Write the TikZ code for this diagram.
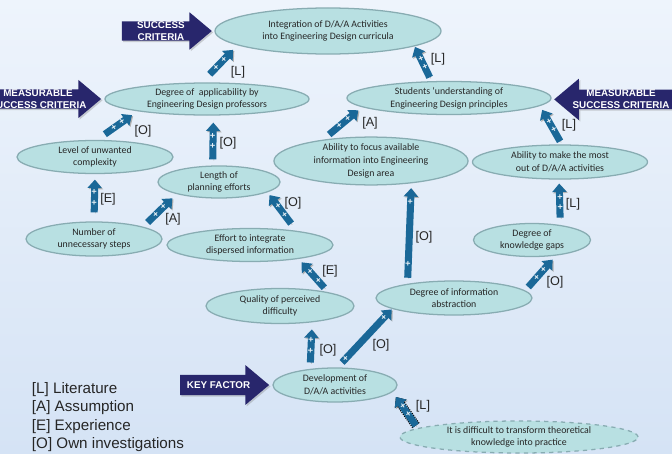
\documentclass[tikz,border=0pt]{standalone}
\usepackage{fontspec}
\setmainfont{Carlito}
\setsansfont{Liberation Sans}
\usetikzlibrary{arrows.meta,shapes.geometric,shapes.arrows,shadows}

\definecolor{bgtop}{RGB}{238,244,252}
\definecolor{bgbot}{RGB}{213,227,245}
\definecolor{cellfill}{RGB}{184,224,226}
\definecolor{celledge}{RGB}{136,172,178}
\definecolor{flowblue}{RGB}{26,104,152}
\definecolor{critnavy}{RGB}{40,38,108}

\begin{document}
\begin{tikzpicture}[x=0.025cm, y=-0.025cm,
  factor/.style={ellipse, draw=celledge, line width=0.9pt, fill=cellfill, inner sep=0pt,
    align=center, text=black!85, font=\fontsize{7}{9}\selectfont},
  flow/.style={line width=5pt, draw=flowblue, -{Triangle[width=10pt,length=6pt]},
    preaction={draw=black!30, transform canvas={shift={(0.8pt,-0.8pt)}}}},
  plus/.style={sloped, inner sep=0pt, text=white!90!flowblue, font=\sffamily\bfseries\fontsize{6.5}{6.5}\selectfont},
  src/.style={text=black!85, font=\sffamily\fontsize{9}{9}\selectfont},
  crit/.style={single arrow, fill=critnavy, text=white, align=center, inner xsep=2pt, inner ysep=0pt,
    single arrow head indent=0pt, single arrow tip angle=80,
    drop shadow={opacity=0.35, shadow xshift=1pt, shadow yshift=-1pt},
    font=\sffamily\bfseries\fontsize{7}{8.5}\selectfont}]
\shade[top color=bgtop, bottom color=bgbot] (0,0) rectangle (672,454);
\useasboundingbox (0,0) rectangle (672,454);

% factors
\node[factor, minimum width=5.65cm, minimum height=1.15cm] (integ) at (328,31) {Integration of D/A/A Activities\\into Engineering Design curricula};
\node[factor, minimum width=5.1cm, minimum height=0.8cm] (app) at (207,99) {Degree of\ \ applicability by\\Engineering Design professors};
\node[factor, minimum width=5.1cm, minimum height=0.825cm] (stud) at (449,98) {Students ‘understanding of\\Engineering Design principles};
\node[factor, minimum width=3.9cm, minimum height=0.825cm] (level) at (95,157) {Level of unwanted\\complexity};
\node[factor, minimum width=3.05cm, minimum height=0.8cm] (plan) at (219,182) {Length of\\planning efforts};
\node[factor, minimum width=4.85cm, minimum height=1.15cm] (focus) at (371,161) {Ability to focus available\\information into Engineering\\Design area};
\node[factor, minimum width=4.375cm, minimum height=0.85cm] (most) at (560,162) {Ability to make the most\\out of D/A/A activities};
\node[factor, minimum width=3.4cm, minimum height=0.85cm] (steps) at (94,239) {Number of\\unnecessary steps};
\node[factor, minimum width=4.15cm, minimum height=0.825cm] (effort) at (250,245) {Effort to integrate\\dispersed information};
\node[factor, minimum width=2.925cm, minimum height=0.825cm] (gaps) at (532,240) {Degree of\\knowledge gaps};
\node[factor, minimum width=3.7cm, minimum height=0.875cm] (qual) at (280,306) {Quality of perceived\\difficulty};
\node[factor, minimum width=3.9cm, minimum height=0.85cm] (abstr) at (454,298) {Degree of information\\abstraction};
\node[factor, minimum width=3.1cm, minimum height=0.85cm] (dev) at (335,385) {Development of\\D/A/A activities};
\node[factor, dashed, minimum width=5.95cm, minimum height=0.8cm] (diff) at (519,437) {It is difficult to transform theoretical\\knowledge into practice};

% criteria arrows
\node[crit, minimum height=2.25cm, single arrow head extend=6.4pt, anchor=tip] (sc) at ([xshift=-1.5pt]integ.west) {SUCCESS\\CRITERIA};
\node[crit, minimum height=2.6cm, single arrow head extend=6.7pt, anchor=tip] (mscl) at ([xshift=-2pt]app.west) {MEASURABLE\\SUCCESS CRITERIA};
\node[crit, minimum height=3.05cm, single arrow head extend=7.8pt, shape border rotate=180, anchor=tip] (mscr) at ([xshift=1.5pt,yshift=-1pt]stud.east) {MEASURABLE\\SUCCESS CRITERIA};
\node[crit, minimum height=2.225cm, single arrow head extend=7pt, inner ysep=4.5pt, anchor=tip] (kf) at ([xshift=-2pt]dev.west) {KEY FACTOR};

% influences
\draw[flow, shorten <=8pt, shorten >=4.5pt] (app.107) -- node[plus,pos=.4]{+} node[plus,pos=.62]{+} (integ.189);
\draw[flow, shorten <=3pt, shorten >=0.5pt] (stud.136) -- node[plus,pos=.4]{+} node[plus,pos=.65]{+} (integ.350);
\draw[flow, shorten <=7pt, shorten >=4.8pt] (level.84) -- node[plus,pos=.42]{+} node[plus,pos=.62]{+} (app.190);
\draw[flow, shorten <=4.3pt, shorten >=5pt] (plan.111) -- node[plus,pos=.4]{+} node[plus,pos=.6]{+} (app.291);
\draw[flow, shorten <=5.7pt, shorten >=3.5pt] (focus.156) -- node[plus,pos=.42]{+} node[plus,pos=.64]{+} (stud.186);
\draw[flow, shorten <=2.5pt, shorten >=3.2pt] (most.84) -- node[plus,pos=.38]{+} node[plus,pos=.6]{+} (stud.355);
\draw[flow, shorten <=6.4pt, shorten >=3.9pt] (steps.north) -- node[plus,pos=.4]{+} node[plus,pos=.62]{+} (level.south);
\draw[flow, shorten <=4.3pt, shorten >=4.3pt] (steps.14) -- node[plus,pos=.38]{+} node[plus,pos=.6]{+} (plan.196);
\draw[flow, shorten <=6.4pt, shorten >=2.5pt] (effort.17) -- node[plus,pos=.42]{+} node[plus,pos=.64]{+} (plan.348);
\draw[flow, shorten <=4.2pt, shorten >=3.2pt] (qual.16) -- node[plus,pos=.34]{+} node[plus,pos=.62]{+} (effort.344);
\draw[flow, shorten <=4.3pt, shorten >=3.4pt] (abstr.163) -- node[plus,pos=.2]{+} node[plus,pos=.82]{+} (focus.331);
\draw[flow, shorten <=5.2pt, shorten >=2.8pt] (gaps.28) -- node[plus,pos=.4]{+} node[plus,pos=.62]{+} (most.267);
\draw[flow, shorten <=3.3pt, shorten >=3.8pt] (abstr.6) -- node[plus,pos=.38]{+} node[plus,pos=.6]{+} (gaps.327);
\draw[flow, shorten <=4.5pt, shorten >=5pt] (dev.147) -- node[plus,pos=.4]{+} node[plus,pos=.62]{+} (qual.333);
\draw[flow, shorten <=4.8pt, shorten >=0.5pt] (dev.82) -- node[plus,pos=.15]{+} node[plus,pos=.85]{+} (abstr.190);
\draw[flow, shorten <=2.3pt, shorten >=4.3pt, preaction={draw=black, line width=6.4pt, dash pattern=on 0.8pt off 0.8pt}] (diff.175) -- node[plus,pos=.38]{+} node[plus,pos=.6]{+} (dev.353);

% sources
\node[src] at (238,72) {[L]};
\node[src] at (438,59) {[L]};
\node[src] at (143,131) {[O]};
\node[src] at (228,143) {[O]};
\node[src] at (370,123) {[A]};
\node[src] at (569,125) {[L]};
\node[src] at (108,199) {[E]};
\node[src] at (173,219) {[A]};
\node[src] at (293,203) {[O]};
\node[src] at (330,271) {[E]};
\node[src] at (424,237) {[O]};
\node[src] at (573,204) {[L]};
\node[src] at (555,282) {[O]};
\node[src] at (328,350) {[O]};
\node[src] at (381,345) {[O]};
\node[src] at (423,406) {[L]};

% key
\node[text=black!85, align=left, anchor=west, font=\sffamily\fontsize{10.8}{13.2}\selectfont] (legend) at (27,417)
  {[L] Literature\\{}[A] Assumption\\{}[E] Experience\\{}[O] Own investigations};
\end{tikzpicture}
\end{document}
